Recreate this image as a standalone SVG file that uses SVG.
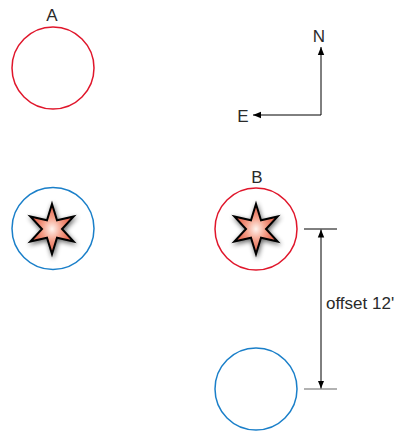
<svg xmlns="http://www.w3.org/2000/svg" width="401" height="432" viewBox="0 0 401 432">
<style>
.lbl{font-family:"Liberation Sans",Arial,sans-serif;font-size:17px;fill:#2a2a2a}
.red{fill:none;stroke:#e0162b;stroke-width:1.5}
.blue{fill:none;stroke:#1a7fc9;stroke-width:1.5}
.star{fill:url(#sg);stroke:#000;stroke-width:2;stroke-linejoin:miter;filter:url(#sh)}
.ln{stroke:#000;stroke-width:1;fill:none}
</style>
<defs>
<radialGradient id="sg" cx="0.5" cy="0.5" r="0.5">
<stop offset="0" stop-color="#fff4ee"/>
<stop offset="0.45" stop-color="#f4a08a"/>
<stop offset="1" stop-color="#e0563e"/>
</radialGradient>
<filter id="sh" x="-40%" y="-40%" width="180%" height="180%">
<feGaussianBlur in="SourceAlpha" stdDeviation="2.5" result="b"/>
<feOffset dx="1" dy="2" in="b" result="o"/>
<feComponentTransfer in="o" result="s"><feFuncA type="linear" slope="0.6"/></feComponentTransfer>
<feMerge><feMergeNode in="s"/><feMergeNode in="SourceGraphic"/></feMerge>
</filter>
<marker id="ah" viewBox="0 0 10 10" refX="10" refY="5" markerWidth="8" markerHeight="8" markerUnits="userSpaceOnUse" orient="auto">
<path d="M0,1 L10,5 L0,9 Z" fill="#000"/>
</marker>
<path id="starp" d="M0,-25 L5,-8.7 L21.65,-12.5 L10,0 L21.65,12.5 L5,8.7 L0,25 L-5,8.7 L-21.65,12.5 L-10,0 L-21.65,-12.5 L-5,-8.7 Z"/>
</defs>
<g id="nodeA">
<circle class="red" cx="53" cy="68" r="41"/>
<text class="lbl" x="52" y="21" text-anchor="middle">A</text>
</g>
<g id="nodeLeftStar">
<circle class="blue" cx="53" cy="228.5" r="41"/>
<use href="#starp" class="star" transform="translate(52,229)"/>
</g>
<g id="nodeB">
<circle class="red" cx="256" cy="229" r="41"/>
<use href="#starp" class="star" transform="translate(256,229)"/>
<text class="lbl" x="257" y="183" text-anchor="middle">B</text>
</g>
<g id="nodeBottom">
<circle class="blue" cx="256" cy="389" r="41"/>
</g>
<g id="compass">
<text class="lbl" x="319" y="42" text-anchor="middle">N</text>
<text class="lbl" x="243" y="122" text-anchor="middle">E</text>
</g>
<g id="connectors">
<path class="ln" d="M321,115 L321,47" stroke="#555" marker-end="url(#ah)"/>
<path class="ln" d="M321,115 L253,115" marker-end="url(#ah)"/>
<line class="ln" x1="304" y1="229" x2="337" y2="229"/>
<line x1="304" y1="389" x2="337" y2="389" stroke="#999" stroke-width="1.5"/>
<path class="ln" d="M321,309 L321,229.5" marker-end="url(#ah)"/>
<path class="ln" d="M321,309 L321,388.5" marker-end="url(#ah)"/>
</g>
<text class="lbl" x="326" y="309">offset 12'</text>
</svg>
